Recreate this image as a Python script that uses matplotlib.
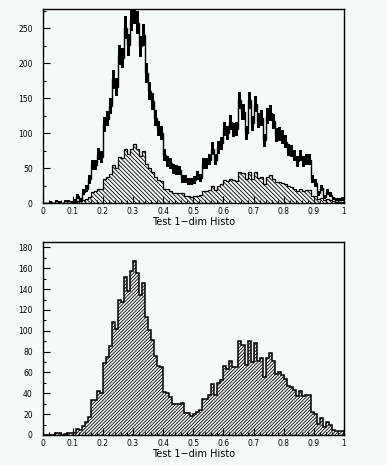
import numpy as np
import matplotlib
matplotlib.use("Agg")
import matplotlib.pyplot as plt
from matplotlib.ticker import MultipleLocator

# ---- data (100 bins on [0,1]) ----
bin_edges_lo = 0.0
bin_edges_hi = 1.0
n_bins = 100

# top panel: thick histogram with error boxes
top_thick = [0, 0, 2, 0, 3, 2, 0, 3, 3, 2,
             4, 10, 5, 16, 21, 34, 55, 55, 70, 66,
             113, 121, 139, 177, 166, 212, 208, 251, 226, 262,
             272, 258, 224, 240, 186, 160, 146, 122, 107, 100,
             69, 60, 57, 49, 48, 47, 35, 35, 31, 31,
             33, 40, 36, 57, 57, 62, 78, 62, 80, 86,
             106, 100, 116, 105, 106, 147, 130, 101, 147, 114,
             142, 118, 122, 90, 125, 129, 117, 97, 99, 95,
             88, 76, 75, 68, 60, 68, 60, 63, 62, 35,
             29, 14, 22, 9, 16, 12, 7, 5, 5, 6]

# top panel: hatched histogram
top_hatched = [0, 0, 0, 0, 1, 1, 0, 1, 1, 1,
               2, 3, 3, 4, 6, 9, 16, 17, 21, 20,
               35, 38, 42, 54, 51, 66, 64, 77, 70, 78,
               84, 78, 67, 74, 56, 50, 45, 38, 33, 32,
               20, 20, 18, 15, 15, 15, 15, 11, 10, 9,
               10, 11, 12, 18, 17, 19, 25, 19, 25, 27,
               33, 32, 35, 33, 32, 45, 43, 34, 45, 35,
               44, 36, 37, 28, 37, 40, 35, 30, 30, 29,
               27, 24, 23, 21, 18, 21, 18, 19, 19, 11,
               10, 6, 8, 4, 6, 5, 3, 2, 2, 2]

# bottom panel: hatched histogram
bottom_hatched = [0, 0, 0, 0, 2, 2, 0, 1, 2, 2,
                  2, 6, 5, 9, 12, 17, 34, 34, 42, 40,
                  69, 75, 85, 108, 102, 130, 128, 152, 138, 157,
                  167, 155, 134, 146, 113, 101, 91, 76, 66, 65,
                  41, 40, 36, 30, 30, 30, 31, 21, 21, 18,
                  20, 22, 24, 35, 35, 38, 49, 38, 50, 53,
                  66, 63, 71, 65, 65, 90, 86, 67, 90, 70,
                  88, 71, 74, 56, 74, 79, 71, 59, 60, 58,
                  54, 47, 46, 43, 37, 42, 37, 38, 38, 22,
                  20, 11, 16, 8, 12, 10, 5, 4, 4, 4]

x_ticks = [0, 0.1, 0.2, 0.3, 0.4, 0.5, 0.6, 0.7, 0.8, 0.9, 1]
x_tick_labels = ["0", "0.1", "0.2", "0.3", "0.4", "0.5", "0.6", "0.7", "0.8", "0.9", "1"]
x_title = "Test 1\u2212dim Histo"

BG = "#f4faf5"
plt.rcParams["hatch.linewidth"] = 0.6

fig = plt.figure(figsize=(3.87, 4.65), dpi=100, facecolor=BG)
W, H = 387.0, 465.0
ax1 = fig.add_axes([42.5 / W, 1 - 203.3 / H, 301.5 / W, 194.0 / H], facecolor=BG)
ax2 = fig.add_axes([42.5 / W, 1 - 435.0 / H, 301.5 / W, 193.3 / H], facecolor=BG)

edges = np.linspace(bin_edges_lo, bin_edges_hi, n_bins + 1)
centers = 0.5 * (edges[:-1] + edges[1:])
width = edges[1] - edges[0]

# --- top panel ---
t = np.array(top_thick, dtype=float)
err = np.sqrt(t)
ax1.stairs(top_hatched, edges, fill=True, facecolor="none", edgecolor="black",
           hatch="\\" * 8, linewidth=0.9)
ax1.bar(centers, 2 * err, bottom=t - err, width=width, color="black",
        linewidth=0, align="center")
ax1.stairs(t, edges, color="black", linewidth=1.0)
ax1.set_ylim(0, 277)
ax1.yaxis.set_major_locator(MultipleLocator(50))
ax1.yaxis.set_minor_locator(MultipleLocator(25))

# --- bottom panel ---
ax2.stairs(bottom_hatched, edges, fill=True, facecolor="none", edgecolor="black",
           hatch="/" * 10, linewidth=1.1)
ax2.set_ylim(0, 185.5)
ax2.yaxis.set_major_locator(MultipleLocator(20))
ax2.yaxis.set_minor_locator(MultipleLocator(10))

for ax in (ax1, ax2):
    ax.set_xlim(0, 1)
    ax.set_xticks(x_ticks)
    ax.set_xticklabels(x_tick_labels)
    ax.xaxis.set_minor_locator(MultipleLocator(0.02))
    ax.tick_params(which="both", direction="in", top=False, right=False,
                   color="black", width=0.8)
    ax.tick_params(which="major", length=5, labelsize=5.5, pad=3)
    ax.tick_params(axis="y", which="major", pad=7)
    ax.tick_params(which="minor", length=2.5)
    for s in ax.spines.values():
        s.set_linewidth(1.0)
        s.set_color("black")
    ax.set_xlabel(x_title, fontsize=7, labelpad=0.5)

fig.savefig("out.png", dpi=100, facecolor=BG)
